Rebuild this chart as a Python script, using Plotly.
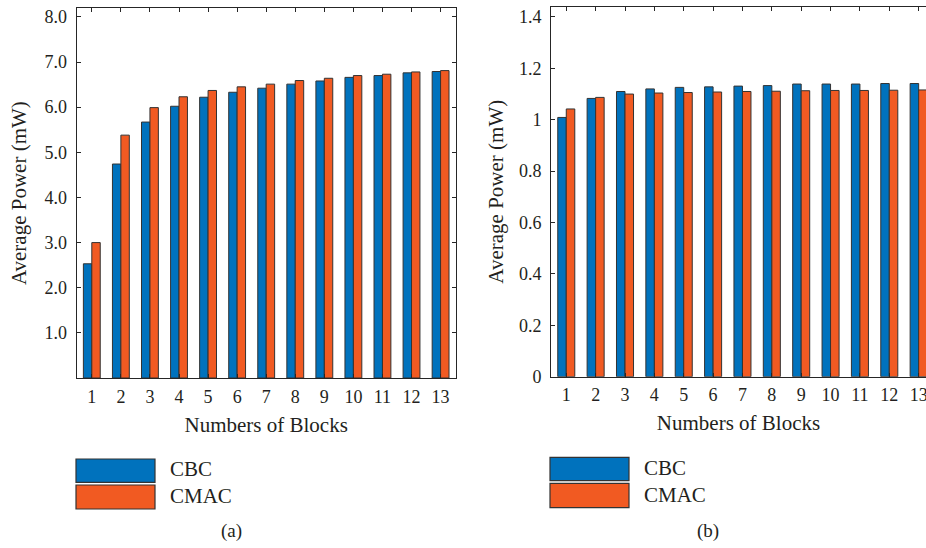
import plotly.graph_objects as go

blocks = list(range(1, 14))
tick_labels_x = [str(b) for b in blocks]

cbc_a = [2.53, 4.74, 5.67, 6.02, 6.22, 6.33, 6.42, 6.51, 6.58, 6.66, 6.70, 6.76, 6.79]
cmac_a = [3.00, 5.38, 5.99, 6.23, 6.37, 6.45, 6.51, 6.59, 6.64, 6.70, 6.73, 6.78, 6.81]

cbc_b = [1.009, 1.083, 1.110, 1.120, 1.126, 1.128, 1.131, 1.133, 1.139, 1.139, 1.139, 1.141, 1.141]
cmac_b = [1.042, 1.087, 1.100, 1.104, 1.106, 1.108, 1.110, 1.111, 1.113, 1.114, 1.114, 1.115, 1.116]

yticks_a = [1, 2, 3, 4, 5, 6, 7, 8]
yticklabels_a = ["1.0", "2.0", "3.0", "4.0", "5.0", "6.0", "7.0", "8.0"]
yticks_b = [0, 0.2, 0.4, 0.6, 0.8, 1.0, 1.2, 1.4]
yticklabels_b = ["0", "0.2", "0.4", "0.6", "0.8", "1", "1.2", "1.4"]

series_names = ["CBC", "CMAC"]
colors = ["#0072BD", "#F15A22"]
edge = "#333333"

W, H = 926, 548
FONT = "Liberation Serif, Times New Roman, serif"
TXT = "#231F20"

def px(x):
    return min(1.0, max(0.0, x / W))

def py(y):
    return min(1.0, max(0.0, 1 - y / H))

fig = go.Figure()
for name, vals, col in zip(series_names, [cbc_a, cmac_a], colors):
    fig.add_trace(go.Bar(x=blocks, y=vals, name=name, marker=dict(color=col, line=dict(color=edge, width=1)),
                         xaxis="x", yaxis="y", showlegend=False))
for name, vals, col in zip(series_names, [cbc_b, cmac_b], colors):
    fig.add_trace(go.Bar(x=blocks, y=vals, name=name, marker=dict(color=col, line=dict(color=edge, width=1)),
                         xaxis="x2", yaxis="y2", showlegend=False))

axis_common = dict(showgrid=False, zeroline=False, linecolor="#262626", linewidth=1,
                   ticks="inside", ticklen=4, tickcolor="#262626", tickwidth=1,
                   tickfont=dict(family=FONT, size=18, color=TXT), automargin=False,
                   ticklabeloverflow="allow",
                   title_font=dict(family=FONT, size=21, color=TXT))

fig.update_layout(
    width=W, height=H, autosize=False,
    margin=dict(l=0, r=0, t=0, b=0),
    paper_bgcolor="white", plot_bgcolor="white",
    barmode="group", bargap=0.42, bargroupgap=0,
    xaxis=dict(axis_common, domain=[px(76.7), px(455.7)], range=[0.48, 13.52],
               tickvals=blocks, ticktext=tick_labels_x, mirror="ticks", anchor="y",
               ticklabelstandoff=2,
               title=dict(text="Numbers of Blocks", standoff=11)),
    yaxis=dict(axis_common, domain=[py(378), py(8.3)], range=[0, 8.19],
               tickvals=yticks_a, ticktext=yticklabels_a, mirror="ticks", anchor="x",
               ticklabelstandoff=5,
               title=dict(text="Average Power (mW)", standoff=12)),
    xaxis2=dict(axis_common, domain=[px(551), 1.0], range=[0.48, 13.25],
                tickvals=blocks, ticktext=tick_labels_x, mirror="ticks", anchor="y2",
                ticklabelstandoff=2,
                title=dict(text="Numbers of Blocks", standoff=11)),
    yaxis2=dict(axis_common, domain=[py(376.7), py(6.7)], range=[0, 1.44],
                tickvals=yticks_b, ticktext=yticklabels_b, mirror=False, anchor="x2",
                ticklabelstandoff=5,
                title=dict(text="Average Power (mW)", standoff=9)),
)

# Legends drawn as boxes + text
legend_specs = [
    (76, 168, [(459, 482.3), (485, 509)], [469, 496]),
    (550, 642, [(457.3, 480.7), (483.3, 507.7)], [467.5, 494.5]),
]
for (bx, tx, boxes, tys) in legend_specs:
    for (y0, y1), ty, col, name in zip(boxes, tys, colors, series_names):
        fig.add_shape(type="rect", xref="paper", yref="paper",
                      x0=px(bx), x1=px(bx + 79), y0=py(y1), y1=py(y0),
                      fillcolor=col, line=dict(color=edge, width=1.2))
        fig.add_annotation(xref="paper", yref="paper", x=px(tx), y=py(ty), text=name,
                           showarrow=False, xanchor="left", yanchor="middle",
                           font=dict(family=FONT, size=21, color=TXT))

for label, cx in [("(a)", 231), ("(b)", 708)]:
    fig.add_annotation(xref="paper", yref="paper", x=px(cx), y=py(531), text=label,
                       showarrow=False, xanchor="center", yanchor="middle",
                       font=dict(family=FONT, size=19, color=TXT))

fig.write_html("out.html", config={"displayModeBar": False},
               post_script="document.body.style.margin='0';document.body.style.overflow='hidden';")
